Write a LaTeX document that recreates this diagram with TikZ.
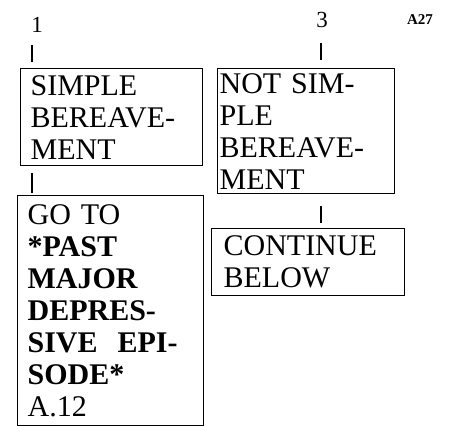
\documentclass[tikz,border=0pt]{standalone}
\usepackage{fontspec}
\setmainfont{Liberation Serif}
\usetikzlibrary{positioning}

\begin{document}
\begin{tikzpicture}[
    x=1pt, y=1pt,
    box/.style={draw, line width=1.2pt, anchor=north west, align=left,
                inner ysep=1pt, font=\fontsize{30}{32}\selectfont},
    num/.style={font=\fontsize{23}{23}\selectfont},
    tick/.style={line width=1.2pt}
  ]
  \useasboundingbox (0,0) rectangle (456,-426);
  \coordinate (lx) at (32,0);
  \coordinate (rx) at (321,0);
  \node[num] (one) at (37,-25) {1};
  \node[num] (three) at (322,-20) {3};
  \node[font=\bfseries\fontsize{15}{15}\selectfont] (page) at (420,-20) {A27};
  \node[box, text width=162pt, inner xsep=10pt, minimum height=97pt]
    (simple) at (20,-68) {SIMPLE\\BEREAVE-\\MENT};
  \node[box, text width=173pt, inner xsep=2pt, minimum height=125pt]
    (notsimple) at (217,-68) {NOT SIM-\\PLE\\BEREAVE-\\MENT};
  \node[box, text width=166pt, inner xsep=10pt, minimum height=230pt]
    (goto) at (17,-195) {GO TO\\\textbf{*PAST}\\\textbf{MAJOR}\\
    \textbf{DEPRES-}\\\textbf{SIVE~~EPI-}\\\textbf{SODE*}\\A.12};
  \node[box, text width=169pt, inner xsep=12pt, minimum height=67pt]
    (continue) at (211,-228) {CONTINUE\\BELOW};
  % connectors
  \draw[tick, shorten <=9pt, shorten >=6pt] (one.south -| lx) -- (simple.north -| lx);
  \draw[tick, shorten <=7pt, shorten >=2pt] (simple.south -| lx) -- (goto.north -| lx);
  \draw[tick, shorten <=12pt, shorten >=8pt] (three.south -| rx) -- (notsimple.north -| rx);
  \draw[tick, shorten <=12pt, shorten >=5pt] (notsimple.south -| rx) -- (continue.north -| rx);
\end{tikzpicture}
\end{document}
